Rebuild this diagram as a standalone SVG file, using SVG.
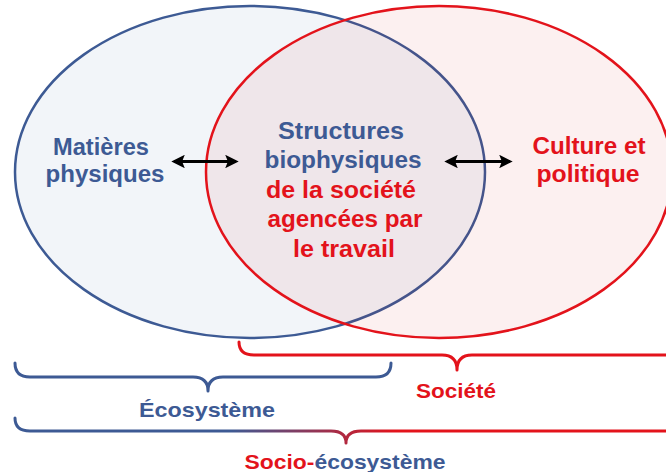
<svg xmlns="http://www.w3.org/2000/svg" width="666" height="472" viewBox="0 0 666 472">
  <defs>
    <marker id="head" viewBox="0 0 10 10" refX="8" refY="5" markerWidth="4.5" markerHeight="4.5" orient="auto-start-reverse" markerUnits="strokeWidth">
      <path d="M0,0 L10,5 L0,10 L2,5 Z" fill="#000"/>
    </marker>
    <linearGradient id="socioGrad" gradientUnits="userSpaceOnUse" x1="230" y1="0" x2="395" y2="0">
      <stop offset="0" stop-color="#3d5a94"/>
      <stop offset="1" stop-color="#e3131b"/>
    </linearGradient>
  </defs>
  <style>
    text { font-family: "Liberation Sans", Arial, sans-serif; font-weight: bold; text-anchor: middle; }
    .blue { fill: #3d5a94; }
    .red { fill: #e3131b; }
    .big { font-size: 23px; }
    .small { font-size: 21px; }
    .arrow { stroke: #000; stroke-width: 3; fill: none; marker-start: url(#head); marker-end: url(#head); }
    .brace { fill: none; stroke-width: 3; stroke-linecap: round; stroke-linejoin: round; }
  </style>
  <rect width="666" height="472" fill="#fff"/>

  <!-- Ecosystem circle -->
  <g id="ecosysteme">
    <ellipse cx="250" cy="172" rx="235" ry="166" fill="#2850a0" fill-opacity="0.06" stroke="#3d5a94" stroke-width="2.5"/>
    <text class="blue big" x="101" y="155" textLength="96" lengthAdjust="spacingAndGlyphs">Matières</text>
    <text class="blue big" x="105" y="182" textLength="119" lengthAdjust="spacingAndGlyphs">physiques</text>
  </g>

  <!-- Society circle -->
  <g id="societe">
    <ellipse cx="439" cy="172" rx="233" ry="166" fill="#d20000" fill-opacity="0.06" stroke="#e3131b" stroke-width="2.5"/>
    <text class="red big" x="589" y="154" textLength="113" lengthAdjust="spacingAndGlyphs">Culture et</text>
    <text class="red big" x="588" y="182" textLength="103" lengthAdjust="spacingAndGlyphs">politique</text>
  </g>

  <!-- Overlap: biophysical structures -->
  <g id="structures">
    <text class="blue big" x="341" y="139" textLength="126" lengthAdjust="spacingAndGlyphs">Structures</text>
    <text class="blue big" x="343" y="168" textLength="157" lengthAdjust="spacingAndGlyphs">biophysiques</text>
    <text class="red big" x="341" y="198" textLength="150" lengthAdjust="spacingAndGlyphs">de la société</text>
    <text class="red big" x="345" y="227" textLength="155" lengthAdjust="spacingAndGlyphs">agencées par</text>
    <text class="red big" x="344" y="257" textLength="102" lengthAdjust="spacingAndGlyphs">le travail</text>
  </g>

  <!-- Connectors -->
  <g id="connectors">
    <line class="arrow" x1="174" y1="161.5" x2="236" y2="161.5"/>
    <line class="arrow" x1="447" y1="161.5" x2="510" y2="161.5"/>
  </g>

  <!-- Braces and labels -->
  <g id="brace-societe">
    <path class="brace" stroke="#e3131b" d="M239,342 Q239,355 254,355 H442 Q457,355 457,370 Q457,355 472,355 H680"/>
    <text class="red small" x="456" y="398" textLength="80" lengthAdjust="spacingAndGlyphs">Société</text>
  </g>
  <g id="brace-ecosysteme">
    <path class="brace" stroke="#3d5a94" d="M15,363 Q15,377 30,377 H193 Q208,377 208,391 Q208,377 223,377 H376 Q391,377 391,363"/>
    <text class="blue small" x="207" y="417" textLength="136" lengthAdjust="spacingAndGlyphs">Écosystème</text>
  </g>
  <g id="brace-socio">
    <path class="brace" stroke="url(#socioGrad)" d="M15,418 Q15,431 30,431 H331 Q346,431 346,443 Q346,431 361,431 H680"/>
    <text class="small" x="345" y="469" textLength="201" lengthAdjust="spacingAndGlyphs"><tspan class="red">Socio-</tspan><tspan class="blue">écosystème</tspan></text>
  </g>
</svg>
